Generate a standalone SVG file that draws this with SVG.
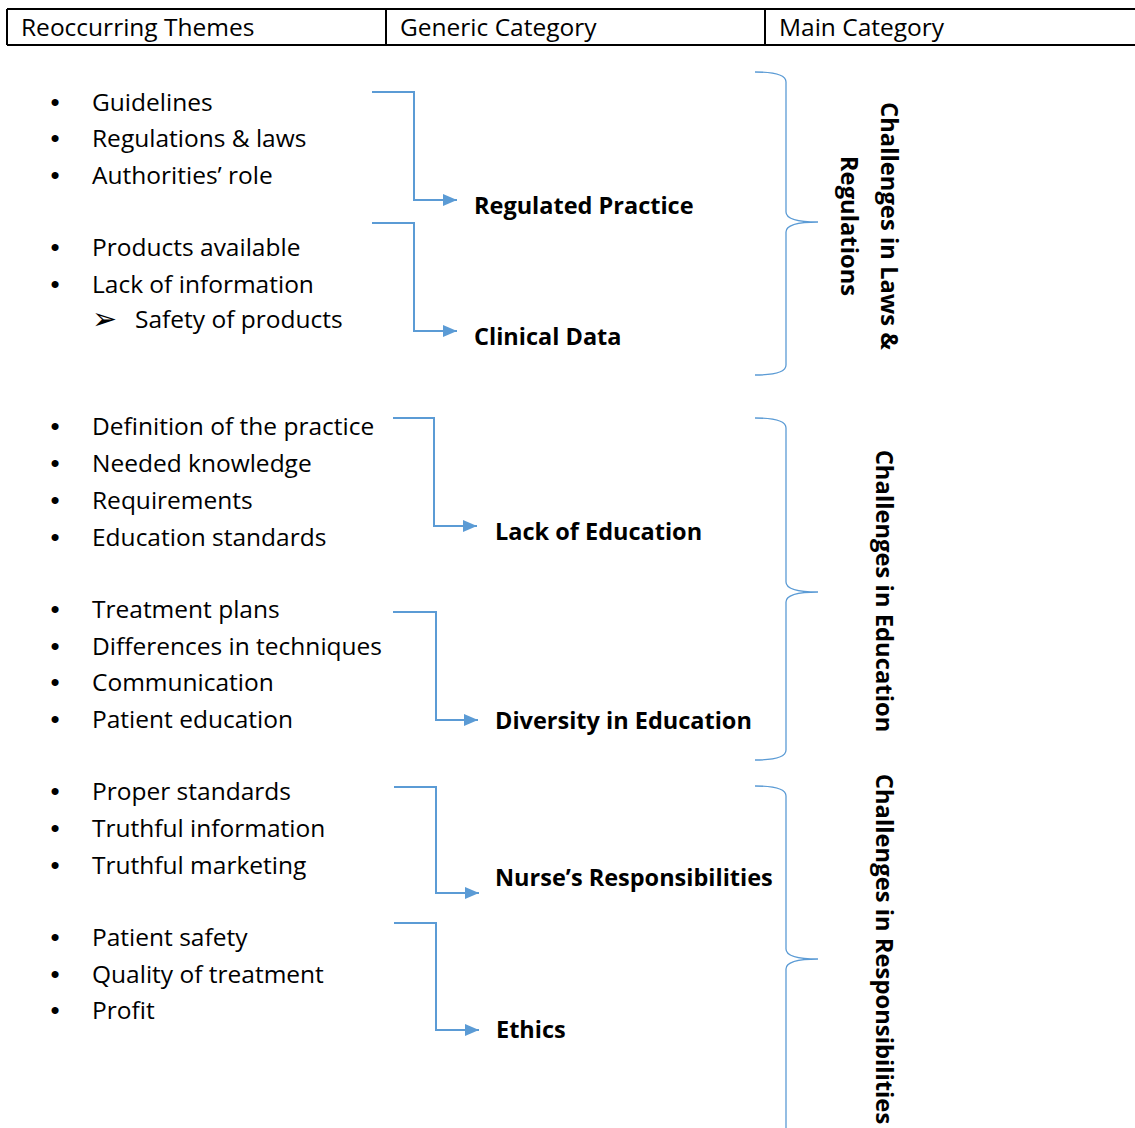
<svg xmlns="http://www.w3.org/2000/svg" width="1135" height="1128" viewBox="0 0 1135 1128">
  <style>
    text { font-family: "Open Sans", "Liberation Sans", sans-serif; fill: #000; }
    .hdr { font-size: 24.5px; }
    .item { font-size: 24.5px; }
    .dot { font-family: "Liberation Sans", sans-serif; font-size: 26px; text-anchor: middle; }
    .sub { font-family: "DejaVu Sans", sans-serif; font-size: 30px; }
    .cat { font-size: 23.5px; font-weight: bold; }
    .main { font-size: 23.8px; font-weight: bold; text-anchor: middle; }
    .conn { fill: none; stroke: #5B9BD5; stroke-width: 2; }
    .brace { fill: none; stroke: #5B9BD5; stroke-width: 1.3; }
  </style>
  <defs>
    <marker id="arrow" viewBox="0 0 14 12" refX="14" refY="6" markerWidth="14" markerHeight="12" markerUnits="userSpaceOnUse" orient="auto">
      <path d="M0,0 L14,6 L0,12 Z" fill="#5B9BD5"/>
    </marker>
  </defs>

  <rect width="1135" height="1128" fill="#fff"/>

  <!-- header row -->
  <g id="header">
    <path d="M7,9 H1140 M7,45 H1140 M7,9 V45 M386,9 V45 M765,9 V45" fill="none" stroke="#000" stroke-width="2"/>
    <text class="hdr" x="21" y="36">Reoccurring Themes</text>
    <text class="hdr" x="400" y="36">Generic Category</text>
    <text class="hdr" x="779" y="36">Main Category</text>
  </g>

  <!-- themes -->
  <g id="themes-regulated">
    <text class="dot" x="55" y="111">•</text><text class="item" x="92" y="111">Guidelines</text>
    <text class="dot" x="55" y="147">•</text><text class="item" x="92" y="147">Regulations &amp; laws</text>
    <text class="dot" x="55" y="184">•</text><text class="item" x="92" y="184">Authorities’ role</text>
  </g>
  <g id="themes-clinical">
    <text class="dot" x="55" y="256">•</text><text class="item" x="92" y="256">Products available</text>
    <text class="dot" x="55" y="293">•</text><text class="item" x="92" y="293">Lack of information</text>
    <text class="sub" x="92" y="329">➢</text><text class="item" x="135" y="328">Safety of products</text>
  </g>
  <g id="themes-lack-education">
    <text class="dot" x="55" y="435">•</text><text class="item" x="92" y="435">Definition of the practice</text>
    <text class="dot" x="55" y="472">•</text><text class="item" x="92" y="472">Needed knowledge</text>
    <text class="dot" x="55" y="509">•</text><text class="item" x="92" y="509">Requirements</text>
    <text class="dot" x="55" y="546">•</text><text class="item" x="92" y="546">Education standards</text>
  </g>
  <g id="themes-diversity">
    <text class="dot" x="55" y="618">•</text><text class="item" x="92" y="618">Treatment plans</text>
    <text class="dot" x="55" y="655">•</text><text class="item" x="92" y="655">Differences in techniques</text>
    <text class="dot" x="55" y="691">•</text><text class="item" x="92" y="691">Communication</text>
    <text class="dot" x="55" y="728">•</text><text class="item" x="92" y="728">Patient education</text>
  </g>
  <g id="themes-nurse">
    <text class="dot" x="55" y="800">•</text><text class="item" x="92" y="800">Proper standards</text>
    <text class="dot" x="55" y="837">•</text><text class="item" x="92" y="837">Truthful information</text>
    <text class="dot" x="55" y="874">•</text><text class="item" x="92" y="874">Truthful marketing</text>
  </g>
  <g id="themes-ethics">
    <text class="dot" x="55" y="946">•</text><text class="item" x="92" y="946">Patient safety</text>
    <text class="dot" x="55" y="983">•</text><text class="item" x="92" y="983">Quality of treatment</text>
    <text class="dot" x="55" y="1019">•</text><text class="item" x="92" y="1019">Profit</text>
  </g>

  <!-- generic categories -->
  <g id="cat-regulated"><text class="cat" x="474" y="214">Regulated Practice</text></g>
  <g id="cat-clinical"><text class="cat" x="474" y="345">Clinical Data</text></g>
  <g id="cat-lack-education"><text class="cat" x="495" y="540">Lack of Education</text></g>
  <g id="cat-diversity"><text class="cat" x="495" y="729">Diversity in Education</text></g>
  <g id="cat-nurse"><text class="cat" x="495" y="886">Nurse’s Responsibilities</text></g>
  <g id="cat-ethics"><text class="cat" x="496" y="1038">Ethics</text></g>

  <!-- main categories -->
  <g id="main-laws">
    <text class="main" transform="translate(881,226) rotate(90)">Challenges in Laws &amp;</text>
    <text class="main" transform="translate(841,226) rotate(90)">Regulations</text>
  </g>
  <g id="main-education">
    <text class="main" transform="translate(876,591) rotate(90)">Challenges in Education</text>
  </g>
  <g id="main-responsibilities">
    <text class="main" transform="translate(876,949) rotate(90)">Challenges in Responsibilities</text>
  </g>

  <!-- connectors -->
  <g id="connectors">
    <path class="conn" d="M372,92 H414 V200 H457" marker-end="url(#arrow)"/>
    <path class="conn" d="M372,223 H414 V331 H457" marker-end="url(#arrow)"/>
    <path class="conn" d="M393,418 H434 V526 H477" marker-end="url(#arrow)"/>
    <path class="conn" d="M393,612 H436 V720 H478" marker-end="url(#arrow)"/>
    <path class="conn" d="M394,787 H436 V893 H479" marker-end="url(#arrow)"/>
    <path class="conn" d="M394,923 H436 V1030 H479" marker-end="url(#arrow)"/>
    <path class="brace" d="M755,72 Q786,72 786,82 V212 Q786,222 818,222 Q786,222 786,232 V365 Q786,375 755,375"/>
    <path class="brace" d="M755,418 Q786,418 786,428 V582 Q786,592 818,592 Q786,592 786,602 V750 Q786,760 755,760"/>
    <path class="brace" d="M755,786 Q786,786 786,796 V949 Q786,959 818,959 Q786,959 786,969 V1140"/>
  </g>
</svg>
